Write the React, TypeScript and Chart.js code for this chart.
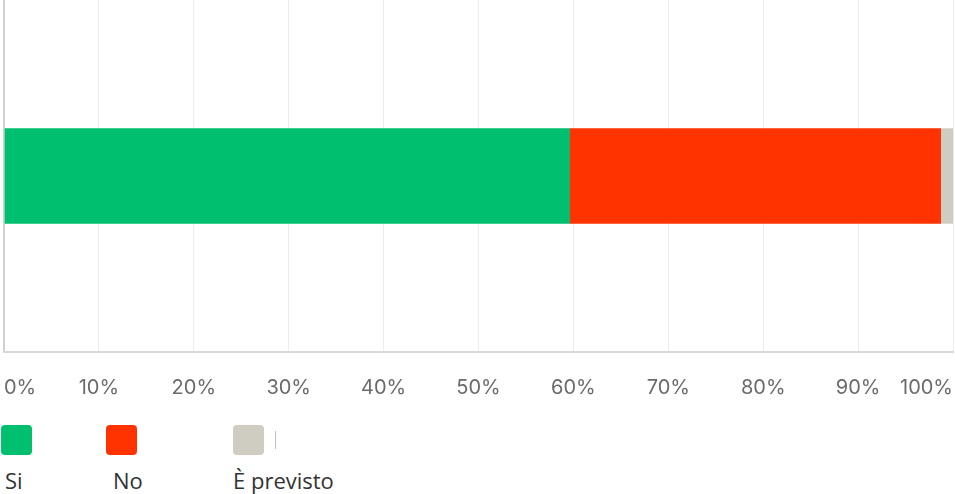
import React, { useEffect, useRef } from "react";
import { Chart, registerables } from "chart.js";

Chart.register(...registerables);

const categories = [""];
const seriesNames = ["Si", "No", "È previsto"];
const siValues = [59.6];
const noValues = [39.1];
const previstoValues = [1.3];
const seriesColors = ["#00BF6F", "#FF3300", "#CFCDC1"];
const tickMax = 100;
const tickStep = 10;

export default function App() {
  const canvasRef = useRef<HTMLCanvasElement | null>(null);

  useEffect(() => {
    document.body.style.margin = "0";
    const canvas = canvasRef.current;
    if (!canvas) return;
    const seriesValues = [siValues, noValues, previstoValues];
    const chart = new Chart(canvas, {
      type: "bar",
      data: {
        labels: categories,
        datasets: seriesNames.map((name, i) => ({
          label: name,
          data: seriesValues[i],
          backgroundColor: seriesColors[i],
          borderWidth: 0,
          barThickness: 95,
        })),
      },
      options: {
        indexAxis: "y",
        responsive: false,
        animation: false,
        layout: { padding: { left: 4, right: 2, top: 0, bottom: 0 } },
        plugins: { legend: { display: false }, tooltip: { enabled: false } },
        scales: {
          x: {
            stacked: true,
            min: 0,
            max: tickMax,
            ticks: {
              stepSize: tickStep,
              align: "inner",
              padding: 24,
              color: "#6b6b6b",
              font: { family: "Inter", size: 20 },
              callback: (v: any) => `${v}%`,
            },
            grid: {
              drawTicks: false,
              color: (ctx: any) => (ctx.index === 0 ? "#d2d2d2" : "#ececec"),
              lineWidth: (ctx: any) => (ctx.index === 0 ? 2 : 1),
            },
            border: { display: true, color: "#d8d8d8", width: 2 },
            afterFit: (scale: any) => {
              scale.height = 50;
              scale.paddingLeft = 0;
              scale.paddingRight = 0;
            },
          },
          y: {
            stacked: true,
            display: false,
          },
        },
      },
    });
    return () => chart.destroy();
  }, []);

  const swatchX = [1, 106, 233];
  const labelX = [5, 113, 233];

  return (
    <div style={{ position: "relative", width: 955, height: 494 }}>
      <canvas ref={canvasRef} width={955} height={402} style={{ display: "block" }} />
      {seriesNames.map((name, i) => (
        <React.Fragment key={name}>
          <div
            style={{
              position: "absolute",
              left: swatchX[i],
              top: 425,
              width: 31,
              height: 30,
              borderRadius: 4,
              background: seriesColors[i],
            }}
          />
          <div
            style={{
              position: "absolute",
              left: labelX[i],
              top: 469,
              fontFamily: "'Open Sans', sans-serif",
              fontSize: 22,
              lineHeight: "22px",
              color: "#333333",
              whiteSpace: "nowrap",
            }}
          >
            {name}
          </div>
        </React.Fragment>
      ))}
      <div
        style={{
          position: "absolute",
          left: 275,
          top: 431,
          width: 1,
          height: 18,
          background: "#c0c0c0",
        }}
      />
    </div>
  );
}
